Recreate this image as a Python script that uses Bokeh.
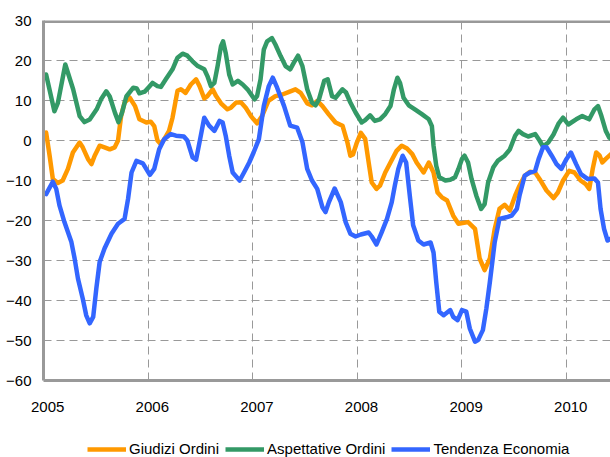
from bokeh.plotting import figure
from bokeh.models import (FixedTicker, Legend, LegendItem, Span, Range1d, CustomJSTickFormatter)
from bokeh.layouts import column
from bokeh.embed import file_html
from bokeh.resources import INLINE

# ---- data (month offsets from Jan 2005, balance values) ----
orange_m = [0.3, 0.7, 1.07, 1.65, 2.2, 2.8, 3.37, 4.14, 4.5, 5.1, 5.5, 5.87, 6.44, 7.0, 7.6, 8.17, 8.55, 8.9, 9.3, 9.9,
            10.5, 11.0, 11.8, 12.3, 12.7, 13.07, 13.46, 13.84, 14.4, 14.8, 15.37, 15.76, 16.3, 16.9, 17.5, 17.9, 18.44,
            18.8, 19.4, 19.8, 20.36, 21.1, 21.5, 22.1, 22.66, 23.2, 23.8, 24.1, 24.5, 25.07, 25.8, 26.6, 27.4, 28.1,
            28.9, 29.5, 30.25, 30.8, 31.4, 32.0, 32.7, 33.5, 34.3, 34.85, 35.2, 35.5, 35.9, 36.4, 36.9, 37.3, 37.65,
            38.2, 38.6, 39.2, 39.8, 40.5, 41.1, 41.7, 42.3, 42.8, 43.6, 44.2, 44.74, 45.2, 45.7, 46.3, 47.0, 47.6,
            48.7, 49.5, 50.03, 50.6, 51.2, 51.76, 52.3, 52.9, 53.5, 54.1, 54.6, 55.2, 55.8, 56.4, 56.9, 57.7, 58.5,
            59.0, 59.6, 60.3, 60.9, 61.6, 62.2, 62.6, 63.0, 63.4, 63.8, 64.1, 64.5, 65.1]
orange_v = [2.0, -3.8, -9.6, -10.6, -10.0, -7.1, -3.0, -0.5, -1.7, -4.6, -5.9, -3.8, -1.3, -1.7, -2.2, -1.7, 0.0, 6.1, 9.5, 10.7,
            8.6, 5.3, 4.5, 4.7, 3.6, 0.0, -0.9, 0.3, 2.4, 5.7, 12.4, 12.8, 11.9, 14.0, 15.3, 13.6, 10.5,
            11.1, 12.8, 11.1, 9.3, 7.8, 8.2, 9.5, 9.5, 8.2, 6.1, 5.3, 4.3, 6.1, 9.9, 11.1, 11.5, 12.1,
            12.8, 11.9, 9.3, 8.8, 9.9, 8.6, 6.6, 4.5, 3.7, -0.4, -3.8, -3.5, -0.8, 1.9, 0.4, -5.5, -10.5,
            -12.1, -11.3, -8.0, -5.5, -2.6, -1.3, -2.0, -3.4, -5.5, -8.0, -5.5, -8.0, -13.0, -14.2, -15.0, -18.8, -20.8,
            -20.4, -22.1, -29.5, -32.4, -29.5, -22.1, -17.1, -16.1, -17.5, -13.8, -11.3, -8.8, -7.8, -8.0, -9.6, -12.5, -14.4,
            -13.0, -10.0, -7.6, -8.0, -10.0, -10.9, -12.1, -7.1, -3.0, -3.8, -5.5, -4.6, -3.4]

green_m = [0.3, 1.25, 1.65, 2.5, 3.4, 4.15, 4.7, 5.3, 6.1, 6.6, 7.2, 7.6, 8.2, 8.6, 9.0, 9.5, 10.3, 10.7, 11.0, 11.6,
           12.1, 12.5, 13.07, 13.46, 14.03, 14.8, 15.37, 15.95, 16.5, 17.1, 17.7, 18.44, 18.8, 19.2, 19.6, 19.97,
           20.36, 20.6, 20.9, 21.3, 21.7, 22.3, 22.85, 23.4, 24.2, 24.5, 24.9, 25.27, 25.65, 26.2, 26.6, 27.2,
           27.76, 28.3, 28.7, 29.2, 29.7, 30.25, 30.8, 31.2, 31.6, 32.2, 32.6, 33.1, 33.5, 34.3, 34.7, 35.2, 35.8,
           36.5, 36.9, 37.46, 38.0, 38.6, 39.2, 39.8, 40.2, 40.6, 40.9, 41.3, 41.9, 42.6, 43.4, 44.2, 44.55, 44.74,
           45.05, 45.4, 46.1, 46.66, 47.2, 47.6, 48.0, 48.3, 48.7, 49.1, 49.65, 50.2, 50.6, 51.0, 51.6, 52.1, 52.9,
           53.5, 54.1, 54.5, 55.0, 55.6, 56.4, 56.9, 57.3, 57.9, 58.5, 59.1, 59.6, 60.2, 61.1, 61.8, 62.6, 63.2,
           63.6, 64.0, 64.5, 64.9, 65.1]
green_v = [16.5, 7.3, 9.4, 19.0, 12.8, 6.1, 4.6, 5.25, 7.8, 10.3, 12.3, 11.0, 6.9, 4.6, 6.9, 11.0, 13.2, 13.0, 11.8, 12.2,
           13.4, 14.4, 13.6, 13.4, 15.3, 17.8, 20.7, 21.7, 21.2, 19.8, 18.6, 17.8, 16.1, 13.6, 14.4, 18.6,
           23.6, 24.8, 21.9, 16.5, 14.0, 14.9, 14.0, 12.8, 10.3, 11.1, 15.3, 22.7, 24.8, 25.6, 24.0, 21.1,
           18.6, 17.8, 19.4, 21.2, 18.6, 12.8, 9.5, 8.8, 10.3, 14.9, 15.3, 11.1, 10.7, 12.8, 12.0, 9.5, 7.0,
           4.5, 5.1, 6.3, 4.9, 5.3, 6.6, 8.6, 12.8, 15.7, 14.4, 10.7, 8.8, 7.8, 6.6, 5.3, 3.6, -1.3,
           -6.3, -9.2, -10.0, -9.8, -9.2, -7.1, -4.6, -3.8, -5.5, -9.6, -13.8, -17.1, -15.9, -10.5, -6.7, -5.1, -3.8,
           -2.2, 1.2, 2.4, 1.6, 1.0, 1.6, 0.0, -1.5, -0.5, 1.5, 4.3, 5.7, 4.0, 5.3, 6.1, 5.3, 7.8,
           8.6, 6.1, 2.4, 0.7, 0.4]

blue_m = [0.3, 1.07, 1.46, 1.84, 2.4, 3.2, 3.57, 3.95, 4.5, 4.9, 5.3, 5.7, 6.06, 6.44, 7.0, 7.8, 8.55, 9.3, 9.7, 10.1,
          10.66, 11.4, 12.2, 12.7, 13.27, 13.84, 14.6, 15.2, 16.1, 16.5, 17.1, 17.5, 17.9, 18.44, 19.0, 19.6, 20.2,
          20.55, 20.9, 21.3, 21.7, 22.5, 23.0, 23.6, 24.1, 24.7, 25.27, 25.84, 26.3, 26.8, 27.6, 28.3, 29.1, 29.7,
          30.25, 30.8, 31.4, 32.0, 32.35, 32.74, 33.4, 34.1, 34.66, 35.2, 35.8, 36.4, 37.3, 37.65, 38.2, 38.8,
          39.4, 39.95, 40.3, 40.7, 41.2, 41.6, 42.06, 42.4, 43.0, 43.6, 44.4, 44.74, 45.05, 45.4, 45.9, 46.66,
          47.0, 47.5, 48.0, 48.5, 48.9, 49.5, 49.85, 50.4, 50.8, 51.2, 51.76, 52.3, 53.1, 53.7, 54.3, 54.6, 55.2,
          55.8, 56.4, 56.8, 57.3, 57.7, 58.3, 58.85, 59.4, 60.0, 60.5, 61.1, 61.65, 62.4, 63.2, 63.6, 63.9, 64.3,
          64.7, 65.1]
blue_v = [-13.4, -10.3, -12.1, -16.3, -20.4, -25.4, -29.5, -34.5, -39.5, -43.7, -45.7, -44.1, -37.0, -30.4, -27.0, -23.3, -20.8, -19.6, -14.6, -8.0,
          -5.1, -5.7, -8.6, -7.1, -2.2, 0.3, 1.6, 1.2, 1.0, 0.0, -4.2, -4.8, -0.4, 5.7, 3.7, 2.4, 4.9,
          4.5, 1.2, -3.8, -8.0, -10.0, -8.0, -5.5, -3.0, 0.3, 8.6, 13.6, 15.7, 13.2, 8.6, 3.7, 3.2, -0.4,
          -7.1, -10.0, -12.1, -16.7, -17.9, -15.4, -12.0, -15.4, -20.4, -23.3, -24.0, -23.5, -23.0, -24.0, -26.0, -22.9,
          -19.6, -15.4, -11.3, -7.1, -3.8, -5.5, -14.6, -21.2, -25.0, -26.0, -25.5, -28.0, -35.4, -42.8, -43.7, -42.4,
          -44.1, -44.9, -42.4, -42.8, -47.0, -50.3, -49.9, -47.4, -42.0, -35.4, -25.4, -19.6, -19.2, -18.8, -17.1, -13.8, -8.8,
          -8.0, -7.6, -4.6, -1.7, -1.7, -3.8, -5.9, -7.1, -4.6, -3.0, -5.9, -8.4, -9.6, -9.5, -10.5, -17.1, -22.1,
          -25.0, -24.5]

series_names = ["Giudizi Ordini", "Aspettative Ordini", "Tendenza Economia"]
series_colors = ["#FF9900", "#339966", "#3366FF"]
year_ticks = [2005, 2006, 2007, 2008, 2009, 2010]
y_ticks = [-60, -50, -40, -30, -20, -10, 0, 10, 20, 30]

def to_years(ms):
    return [2005 + m / 12.0 for m in ms]

FONT = "Liberation Sans"
GRAY = "#999999"
LW = 4.5

p = figure(width=610, height=420, output_backend="svg", toolbar_location=None,
           x_range=Range1d(2005, 2010.42), y_range=Range1d(-60, 30),
           min_border_left=43, min_border_right=0, min_border_top=20, min_border_bottom=40)
p.outline_line_color = None

renderers = []
for ms, vs, c in [(orange_m, orange_v, series_colors[0]),
                  (green_m, green_v, series_colors[1]),
                  (blue_m, blue_v, series_colors[2])]:
    r = p.line(to_years(ms), vs, line_color=c, line_width=LW,
               line_join="round", line_cap="round")
    renderers.append(r)

# grids
for g in (p.xgrid, p.ygrid):
    g.grid_line_color = GRAY
    g.grid_line_dash = "8 5"
    g.grid_line_width = 1
p.xgrid.ticker = FixedTicker(ticks=year_ticks)
p.ygrid.ticker = FixedTicker(ticks=y_ticks)

# y axis
p.yaxis.ticker = FixedTicker(ticks=y_ticks)
p.yaxis.axis_line_color = GRAY
p.yaxis.axis_line_width = 3
p.yaxis.major_tick_line_color = None
p.yaxis.minor_tick_line_color = None
p.yaxis.major_label_standoff = 6
p.yaxis.major_label_text_font = FONT
p.yaxis.major_label_text_font_size = "15px"
p.yaxis.major_label_text_color = "#000000"

# x axis: year labels sit a little to the right of the year lines, as in the source chart
label_ticks = [y + 0.04 for y in year_ticks]
xa = p.xaxis[0]
xa.ticker = FixedTicker(ticks=label_ticks)
xa.formatter = CustomJSTickFormatter(code="return String(Math.floor(tick));")
xa.axis_line_color = GRAY
xa.axis_line_width = 3
xa.major_tick_line_color = None
xa.minor_tick_line_color = None
xa.major_label_standoff = 15
xa.major_label_text_font = FONT
xa.major_label_text_font_size = "15px"
xa.major_label_text_color = "#000000"

# top border
p.add_layout(Span(location=30, dimension="width", line_color=GRAY, line_width=5))

# legend strip below the chart (its frame is aligned with the chart's frame)
lf = figure(width=610, height=37, output_backend="svg", toolbar_location=None,
            x_range=Range1d(0, 1), y_range=Range1d(0, 1),
            min_border_left=0, min_border_right=0, min_border_top=0, min_border_bottom=0)
lf.axis.visible = False
lf.grid.visible = False
lf.outline_line_color = None
lrs = [lf.line([5], [5], line_color=c, line_width=LW) for c in series_colors]
legend = Legend(items=[LegendItem(label=n, renderers=[r]) for n, r in zip(series_names, lrs)],
                orientation="horizontal", location=(44, 0),
                label_text_font=FONT, label_text_font_size="15px", label_text_color="#000000",
                glyph_width=39, glyph_height=16, label_height=16, label_standoff=3, spacing=6,
                padding=0, margin=0, border_line_color=None, background_fill_alpha=0)
lf.add_layout(legend, "center")

layout = column(p, lf, spacing=0)
open("out.html", "w").write(file_html(layout, INLINE))
